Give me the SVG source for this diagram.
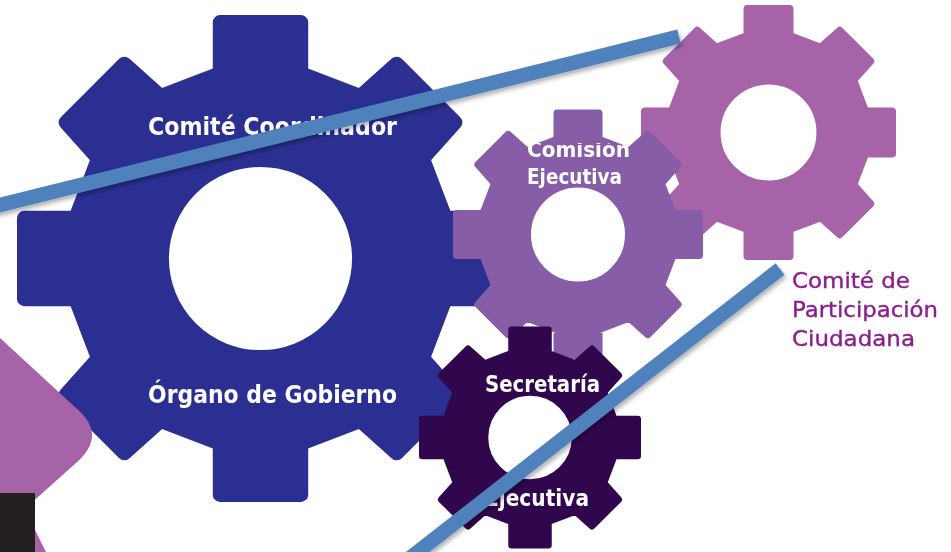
<svg xmlns="http://www.w3.org/2000/svg" xmlns:xlink="http://www.w3.org/1999/xlink" width="951" height="552" viewBox="0 0 951 552">
<style>
.t{font-family:"DejaVu Sans","Liberation Sans",sans-serif;font-weight:bold;fill:#fff;filter:url(#soft)}
.l{font-family:"DejaVu Sans","Liberation Sans",sans-serif;fill:#8a1f8e;stroke:#8a1f8e;stroke-width:.35;filter:url(#soft)}
.g{stroke-width:6;stroke-linejoin:round;fill-rule:evenodd}
.c{fill:none;stroke:#4f81bd;stroke-width:14.5;filter:url(#sh)}
</style>
<defs>
<filter id="soft" x="-5%" y="-20%" width="110%" height="140%"><feGaussianBlur stdDeviation="0.7"/></filter>
<filter id="sh" filterUnits="userSpaceOnUse" x="-20" y="0" width="971" height="552"><feDropShadow dx="2" dy="3" stdDeviation="2" flood-color="#000" flood-opacity="0.3"/></filter>
<clipPath id="cut"><rect x="520" y="143" width="120" height="20"/></clipPath>
<path id="gear" d="M-16.6-75.9L-16.6-97 16.6-97 16.6-75.9 41-66.6 55.9-79.9 79.9-55.9 66.6-41 75.9-16.6 97-16.6 97 16.6 75.9 16.6 66.6 41 79.9 55.9 55.9 79.9 41 66.6 16.6 75.9 16.6 97-16.6 97-16.6 75.9-41 66.6-55.9 79.9-79.9 55.9-66.6 41-75.9 16.6-97 16.6-97-16.6-75.9-16.6-66.6-41-79.9-55.9-55.9-79.9-41-66.6ZM40.6 0A40.6 40.6 0 1 0-40.6 0A40.6 40.6 0 1 0 40.6 0Z"/>
</defs>
<rect width="951" height="552" fill="#fff"/>
<g id="comite-participacion">
<use href="#gear" class="g" fill="#a663a8" stroke="#a663a8" transform="translate(768.5 132.5) scale(1.275)"/>
<text class="l" font-size="21" x="792" y="288" textLength="118" lengthAdjust="spacingAndGlyphs">Comité de</text>
<text class="l" font-size="21" x="792" y="317" textLength="146" lengthAdjust="spacingAndGlyphs">Participación</text>
<text class="l" font-size="21" x="792" y="346" textLength="123" lengthAdjust="spacingAndGlyphs">Ciudadana</text>
</g>
<g id="organo-gobierno">
<use href="#gear" class="g" fill="#2b2f92" stroke="#2b2f92" transform="translate(260.5 258.5) scale(2.435)"/>
<text class="t" font-size="25" x="148" y="135" textLength="249" lengthAdjust="spacingAndGlyphs">Comité Coordinador</text>
<text class="t" font-size="25" x="148" y="403" textLength="249" lengthAdjust="spacingAndGlyphs">Órgano de Gobierno</text>
</g>
<g id="forma-lateral">
<path d="M0 338L76 408Q108 435 76 463L0 531V552H46L35 530V493H0Z" fill="#a663a8"/>
<rect x="0" y="493" width="35" height="59" fill="#231f20"/>
</g>
<g id="comision-ejecutiva">
<use href="#gear" class="g" fill="#865da6" stroke="#865da6" transform="translate(578 234.5) scale(1.25)"/>
<g clip-path="url(#cut)"><text class="t" font-size="22" x="527" y="157" textLength="103" lengthAdjust="spacingAndGlyphs">Comisión</text></g>
<text class="t" font-size="22" x="527" y="184" textLength="95" lengthAdjust="spacingAndGlyphs">Ejecutiva</text>
</g>
<g id="secretaria-ejecutiva">
<use href="#gear" class="g" fill="#30064d" stroke="#30064d" transform="translate(530 437.5) scale(1.11)"/>
<text class="t" font-size="23" x="485" y="392" textLength="115" lengthAdjust="spacingAndGlyphs">Secretaría</text>
<text class="t" font-size="23" x="485" y="506" textLength="104" lengthAdjust="spacingAndGlyphs">Ejecutiva</text>
</g>
<g id="connectors">
<line class="c" x1="-10" y1="207.5" x2="679" y2="36.5"/>
<line class="c" x1="780" y1="269" x2="410" y2="558"/>
</g>
</svg>
